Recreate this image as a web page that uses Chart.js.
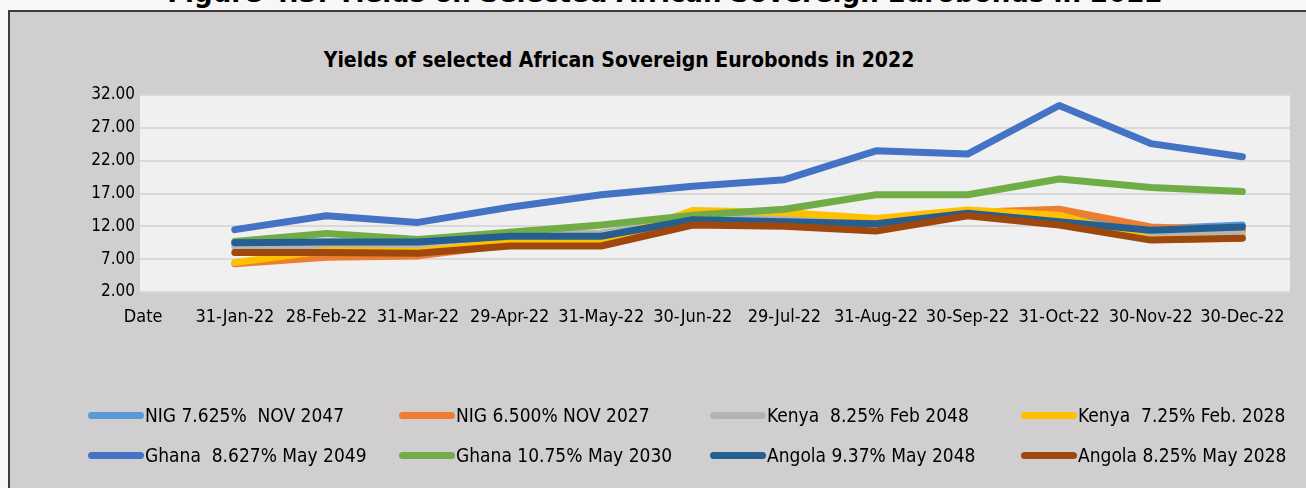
<!DOCTYPE html>
<html>
<head>
<meta charset="utf-8">
<script src="https://cdn.jsdelivr.net/npm/chart.js@4.4.0/dist/chart.umd.min.js"></script>
<style>
  html, body { margin: 0; padding: 0; }
  body {
    width: 1306px; height: 488px; position: relative; overflow: hidden;
    background: #f7f7f7;
    font-family: 'DejaVu Sans Condensed', 'DejaVu Sans', sans-serif;
    color: #000;
  }
  #caption {
    position: absolute; left: 0; top: -25px; width: 1330px;
    text-align: center; font-weight: bold; font-size: 29px; white-space: nowrap;
  }
  #frame {
    position: absolute; left: 8px; top: 10px; width: 1320px; height: 500px;
    background: #d0cece; border: 2px solid #3c3c3c;
  }
  #chartTitle {
    position: absolute; left: 0; top: 48px; width: 1238px;
    text-align: center; font-weight: bold; font-size: 21px; white-space: nowrap;
  }
  #yieldChart { position: absolute; left: 0; top: 0; }
  #legend {
    position: absolute; left: 88px; top: 403px;
    display: grid; grid-template-columns: repeat(4, 311px); row-gap: 16px;
  }
  .item { display: flex; align-items: center; height: 24px; font-size: 19px; white-space: pre; }
  .swatch { width: 56px; height: 7px; border-radius: 4px; margin-right: 1px; }
</style>
</head>
<body>
<div id="caption">Figure 4.3: Yields on Selected African Sovereign Eurobonds in 2022</div>
<div id="frame"></div>
<div id="chartTitle">Yields of selected African Sovereign Eurobonds in 2022</div>
<canvas id="yieldChart" width="1306" height="488"></canvas>
<div id="legend"></div>

<script>
// month-end dates; first slot is the "Date" header column with no values
const dates = ['Date', '31-Jan-22', '28-Feb-22', '31-Mar-22', '29-Apr-22', '31-May-22', '30-Jun-22',
    '29-Jul-22', '31-Aug-22', '30-Sep-22', '31-Oct-22', '30-Nov-22', '30-Dec-22'];

const bondNames = [
    'NIG 7.625%  NOV 2047', 'NIG 6.500% NOV 2027', 'Kenya  8.25% Feb 2048', 'Kenya  7.25% Feb. 2028',
    'Ghana  8.627% May 2049', 'Ghana 10.75% May 2030', 'Angola 9.37% May 2048', 'Angola 8.25% May 2028'
];
const bondColors = ['#5b9bd5', '#ed7d31', '#b4b4b4', '#ffc000', '#4472c4', '#70ad47', '#255e91', '#9e480e'];

// yields in %
const nig2047    = [null, 9.4, 9.6, 9.5, 10.5, 10.6, 13.0, 12.8, 12.5, 14.0, 13.6, 11.6, 12.2];
const nig2027    = [null, 6.3, 7.3, 7.5, 9.2, 9.2, 12.5, 12.7, 12.4, 14.1, 14.6, 11.9, 11.4];
const kenya2048  = [null, 8.9, 9.0, 9.2, 10.9, 11.0, 13.0, 13.5, 12.8, 13.9, 13.2, 10.9, 10.8];
const kenya2028  = [null, 6.5, 8.3, 8.2, 9.6, 9.6, 14.4, 14.1, 13.2, 14.5, 13.7, 10.0, 10.2];
const ghana2049  = [null, 11.5, 13.6, 12.6, 14.9, 16.8, 18.1, 19.1, 23.5, 23.0, 30.4, 24.6, 22.6];
const ghana2030  = [null, 9.7, 10.9, 10.0, 11.1, 12.2, 13.7, 14.6, 16.8, 16.8, 19.2, 17.9, 17.3];
const angola2048 = [null, 9.5, 9.6, 9.6, 10.5, 10.5, 13.0, 12.7, 12.4, 14.0, 12.7, 11.4, 11.9];
const angola2028 = [null, 8.0, 8.0, 7.9, 9.0, 9.0, 12.2, 12.0, 11.3, 13.6, 12.2, 9.9, 10.2];

const seriesValues = [nig2047, nig2027, kenya2048, kenya2028, ghana2049, ghana2030, angola2048, angola2028];

const yTicks = [2, 7, 12, 17, 22, 27, 32];

const fontFamily = "'DejaVu Sans Condensed', 'DejaVu Sans', sans-serif";

// light fill behind the plotting area
const plotBackground = {
    id: 'plotBackground',
    beforeDraw(chart) {
        const { ctx, chartArea: a } = chart;
        ctx.save();
        ctx.fillStyle = '#f0f0f0';
        ctx.fillRect(a.left, a.top, a.right - a.left, a.bottom - a.top);
        ctx.restore();
    }
};

const datasets = bondNames.map((name, i) => ({
    label: name,
    data: seriesValues[i].map((v, k) => ({ x: k, y: v })),
    borderColor: bondColors[i],
    backgroundColor: bondColors[i],
    borderWidth: 7,
    borderCapStyle: 'round',
    borderJoinStyle: 'round',
    pointRadius: 0,
    tension: 0,
    order: bondNames.length - i   // later series sit on top
}));

new Chart(document.getElementById('yieldChart'), {
    type: 'line',
    data: { datasets },
    options: {
        responsive: false,
        animation: false,
        layout: { padding: { left: 0, right: 16, top: 95, bottom: 156 } },
        plugins: {
            legend: { display: false },
            title: { display: false },
            tooltip: { enabled: false }
        },
        scales: {
            x: {
                type: 'linear',
                min: -0.035,
                max: 12.52,
                afterBuildTicks(scale) { scale.ticks = dates.map((d, k) => ({ value: k })); },
                grid: { display: false, drawTicks: false },
                border: { display: false },
                ticks: {
                    autoSkip: false, maxRotation: 0, padding: 15,
                    color: '#000', font: { family: fontFamily, size: 18 },
                    callback: v => dates[v]
                },
                afterFit(scale) { scale.height = 40; }
            },
            y: {
                min: 2,
                max: 32,
                afterBuildTicks(scale) { scale.ticks = yTicks.map(v => ({ value: v })); },
                grid: { color: '#d9d9d9', lineWidth: 2, drawTicks: false },
                border: { display: false },
                ticks: {
                    padding: 5, color: '#000',
                    font: { family: fontFamily, size: 17 },
                    callback: v => Number(v).toFixed(2)
                },
                afterFit(scale) { scale.width = 140; }
            }
        }
    },
    plugins: [plotBackground]
});

// legend laid out as a 4 x 2 grid
const legendBox = document.getElementById('legend');
bondNames.forEach((name, i) => {
    const item = document.createElement('div');
    item.className = 'item';
    const sw = document.createElement('span');
    sw.className = 'swatch';
    sw.style.background = bondColors[i];
    const txt = document.createElement('span');
    txt.textContent = name;
    item.appendChild(sw);
    item.appendChild(txt);
    legendBox.appendChild(item);
});
</script>
</body>
</html>
